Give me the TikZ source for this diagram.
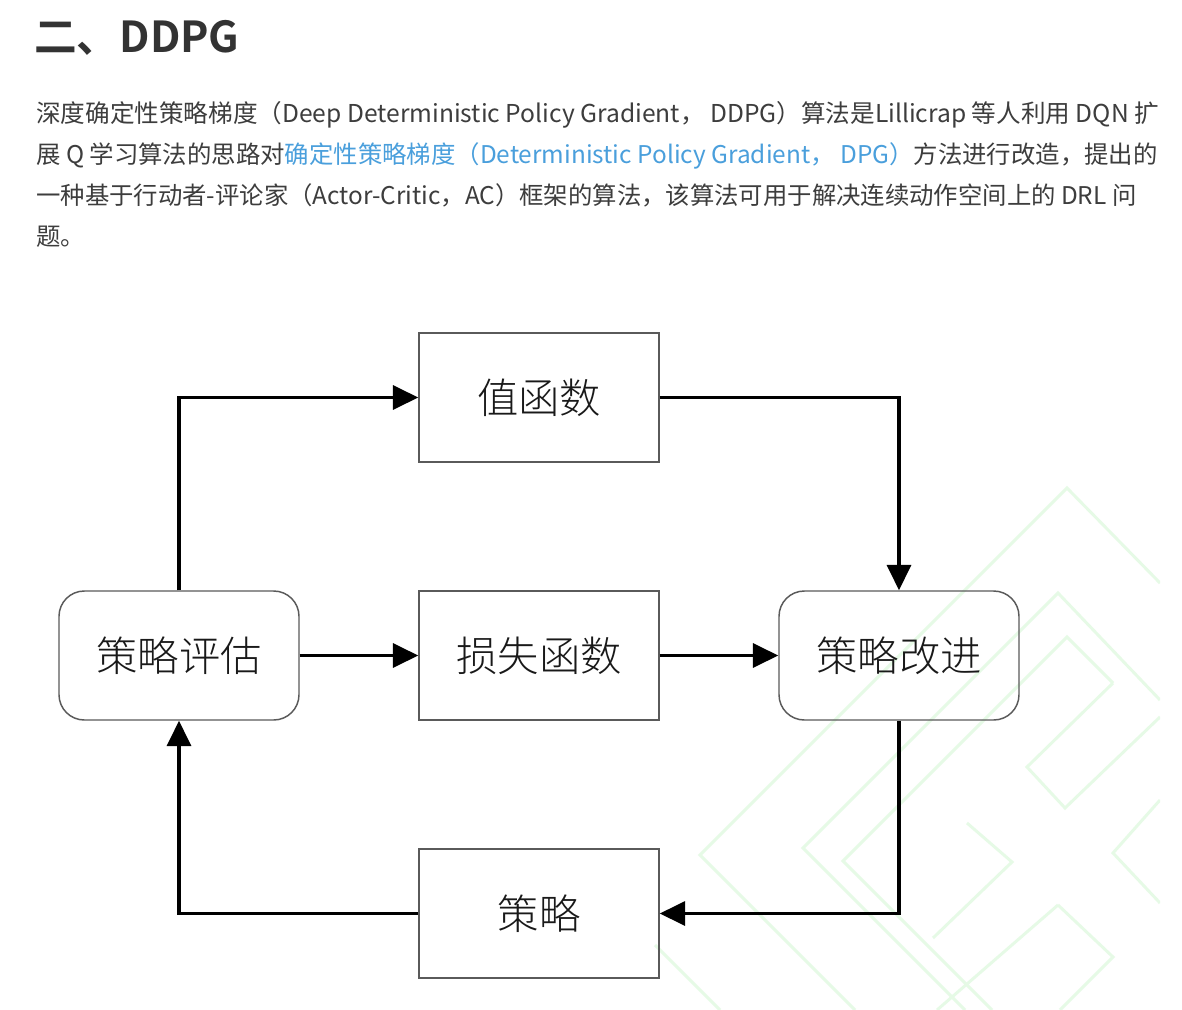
\documentclass[tikz,border=0pt]{standalone}
\usepackage{fontspec}
\setmainfont{Noto Sans CJK SC}[BoldFont={Noto Sans CJK SC Bold}]
\newfontfamily\boxfont{Noto Sans CJK SC Light}
\usetikzlibrary{arrows.meta}
\definecolor{txt}{HTML}{3D3D3D}
\definecolor{ttl}{HTML}{333333}
\definecolor{linkblue}{HTML}{4A9FDC}
\definecolor{wm}{HTML}{E6FAE6}
\definecolor{boxline}{HTML}{5A5A5A}
\begin{document}
\begin{tikzpicture}[x=0.75pt,y=-0.75pt,
  para/.style={anchor=base west,inner sep=0pt,text=txt},
  sqbox/.style={draw=boxline,line width=1.1pt,minimum width=180pt,minimum height=96.75pt,inner sep=0pt,font=\boxfont\fontsize{31}{36}\selectfont,text=black!90},
  rdbox/.style={sqbox,rounded corners=19pt},
  wmline/.style={wm,line width=2.2pt},
  flow/.style={line width=2.3pt,black,-{Triangle[length=19pt,width=18pt]}}]
\useasboundingbox[fill=white] (0,0) rectangle (1182,1010);
% watermark
\begin{scope}
\clip (640,420) rectangle (1160,1010);
\draw[wmline] (1160,583) -- (1067,488) -- (700,855) -- (855,1010);
\draw[wmline] (1160,700) -- (1058,593) -- (803,848) -- (965,1010);
\draw[wmline] (1113,683) -- (1067,637) -- (843,861) -- (992,1010);
\draw[wmline] (1113,683) -- (1027,767) -- (1065,808) -- (1160,717);
\draw[wmline] (1160,800) -- (1113,853) -- (1160,903);
\draw[wmline] (967,823) -- (1012,862) -- (933,938);
\draw[wmline] (1058,905) -- (1113,957) -- (1060,1010);
\draw[wmline] (1058,905) -- (937,1010);
\draw[wmline] (655,945) -- (720,1010);
\end{scope}
% title and paragraph
\node[anchor=base west,inner sep=0pt,text=ttl,font=\bfseries\fontsize{32}{38}\selectfont] (title) at (34,52) {二、DDPG};
\node[para,font=\fontsize{18.45}{22}\selectfont] (l1) at (36,122) {深度确定性策略梯度（Deep Deterministic Policy Gradient， DDPG）算法是Lillicrap 等人利用 DQN 扩};
\node[para,font=\fontsize{18.3}{22}\selectfont] (l2) at (36,163) {展 Q 学习算法的思路对\textcolor{linkblue}{确定性策略梯度（Deterministic Policy Gradient， DPG）}方法进行改造，提出的};
\node[para,font=\fontsize{18.28}{22}\selectfont] (l3) at (36,204) {一种基于行动者-评论家（Actor-Critic，AC）框架的算法，该算法可用于解决连续动作空间上的 DRL 问};
\node[para,font=\fontsize{18.3}{22}\selectfont] (l4) at (36,245) {题。};
% diagram
\node[sqbox] (vf) at (539,397.5) {值函数};
\node[sqbox] (loss) at (539,655.5) {损失函数};
\node[sqbox] (pol) at (539,913.5) {策略};
\node[rdbox] (eval) at (179,655.5) {策略评估};
\node[rdbox] (impr) at (899,655.5) {策略改进};
\draw[flow] (eval.north) |- (vf.west);
\draw[flow] (vf.east) -| (impr.north);
\draw[flow] (eval.east) -- (loss.west);
\draw[flow] (loss.east) -- (impr.west);
\draw[flow] (impr.south) |- (pol.east);
\draw[flow] (pol.west) -| (eval.south);
\end{tikzpicture}
\end{document}
